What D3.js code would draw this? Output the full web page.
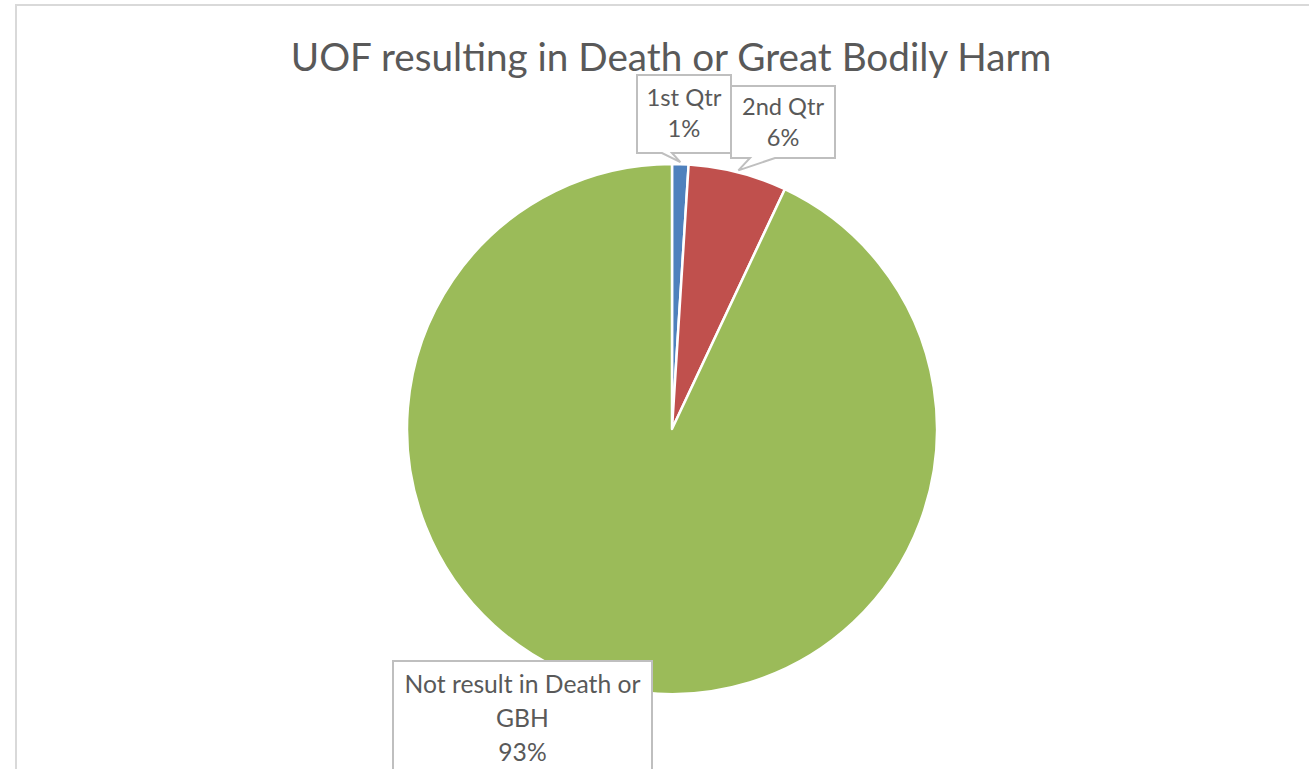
<!DOCTYPE html>
<html>
<head>
<meta charset="utf-8">
<script src="https://cdn.jsdelivr.net/npm/d3@7"></script>
<style>
  html, body { margin: 0; padding: 0; background: #ffffff; }
  svg { display: block; }
  text { font-family: Lato, "Open Sans", sans-serif; }
</style>
</head>
<body>
<svg id="chart" width="1309" height="769"></svg>
<script>
// ---- data ----
const categories = ["1st Qtr", "2nd Qtr", "Not result in Death or GBH"];
const values = [1, 6, 93];
const labelLines = [["1st Qtr", "1%"], ["2nd Qtr", "6%"], ["Not result in Death or", "GBH", "93%"]];
const colors = ["#4F81BD", "#C0504D", "#9BBB59"];
const title = "UOF resulting in Death or Great Bodily Harm";

// ---- layout ----
const W = 1309, H = 769;
const cx = 672, cy = 429, R = 265;
const svg = d3.select("#chart");

// chart area border (only top & left visible)
svg.append("line").attr("x1", 15).attr("y1", 5).attr("x2", W).attr("y2", 5)
  .attr("stroke", "#d9d9d9").attr("stroke-width", 2);
svg.append("line").attr("x1", 16).attr("y1", 5).attr("x2", 16).attr("y2", H)
  .attr("stroke", "#d9d9d9").attr("stroke-width", 2);

function fitWidth(sel, target) {
  const node = sel.node();
  const fs = parseFloat(sel.attr("font-size"));
  const w = node.getComputedTextLength();
  const nfs = fs * target / w;
  sel.attr("font-size", nfs.toFixed(2));
  return nfs;
}

// title
const t = svg.append("text").attr("x", 671).attr("y", 71)
  .attr("text-anchor", "middle").attr("font-size", 32).attr("fill", "#595959")
  .text(title);
fitWidth(t, 761);

// pie
const pie = d3.pie().sort(null).value(d => d)(values);
const arc = d3.arc().innerRadius(0).outerRadius(R);
const g = svg.append("g").attr("transform", `translate(${cx},${cy})`);
g.selectAll("path").data(pie).join("path")
  .attr("d", arc)
  .attr("fill", (d, i) => colors[i])
  .attr("stroke", "#ffffff").attr("stroke-width", 2.5).attr("stroke-linejoin", "round");

// callout tips computed from the arcs
const tipArc = d3.arc().innerRadius(R + 2).outerRadius(R + 2);
function tip(i) {
  const [x, y] = tipArc.centroid(pie[i]);
  return [cx + x, cy + y];
}

// label boxes (layout)
const boxes = [
  { x0: 637, y0: 75, x1: 731, y1: 153, pa: 662, pb: 672 },
  { x0: 731, y0: 86, x1: 835, y1: 158, pa: 750, pb: 775 },
  { x0: 393, y0: 661, x1: 652, y1: 790, pa: null, pb: null }
];
const lineGap = [31, 31, 34];
const firstBase = [106, 115, 693];
const firstWidth = [75, 82, 236];

const lg = svg.append("g");
boxes.forEach((b, i) => {
  let d;
  if (b.pa !== null) {
    const [tx, ty] = tip(i);
    d = `M${b.x0},${b.y0}H${b.x1}V${b.y1}H${b.pb}L${tx},${ty}L${b.pa},${b.y1}H${b.x0}Z`;
  } else {
    d = `M${b.x0},${b.y0}H${b.x1}V${b.y1}H${b.x0}Z`;
  }
  lg.append("path").attr("d", d).attr("fill", "#ffffff")
    .attr("stroke", "#bfbfbf").attr("stroke-width", 2);
  const mx = (b.x0 + b.x1) / 2;
  let fs = 21;
  labelLines[i].forEach((ln, j) => {
    const tx = lg.append("text").attr("x", mx).attr("y", firstBase[i] + j * lineGap[i])
      .attr("text-anchor", "middle").attr("font-size", fs)
      .attr("fill", "#595959").text(ln);
    if (j === 0) fs = fitWidth(tx, firstWidth[i]);
  });
});
</script>
</body>
</html>
